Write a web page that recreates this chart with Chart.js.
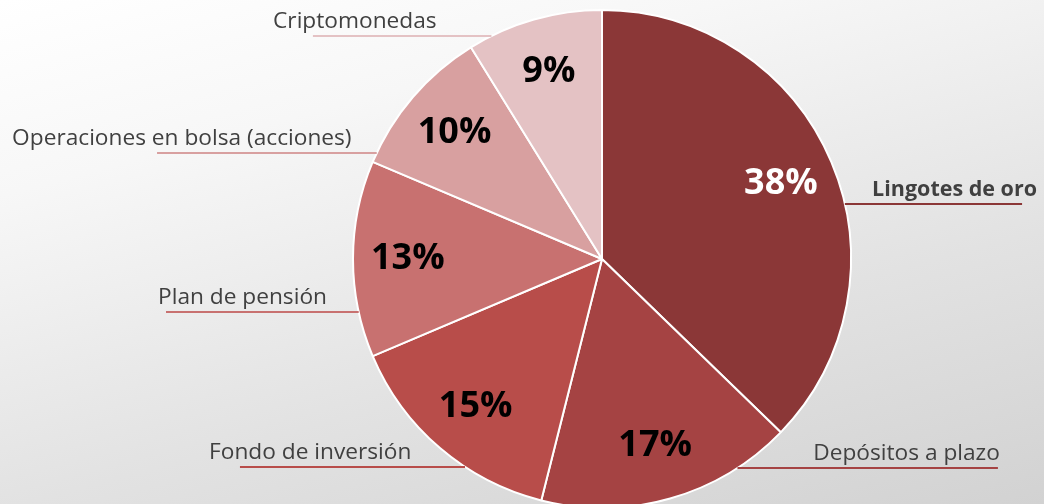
<!DOCTYPE html>
<html>
<head>
<meta charset="utf-8">
<script src="https://cdn.jsdelivr.net/npm/chart.js@4.4.0/dist/chart.umd.min.js"></script>
<style>
  html, body { margin: 0; padding: 0; overflow: hidden; }
  #wrap {
    width: 1044px; height: 504px; position: relative;
    background: linear-gradient(165deg, #ffffff 0%, #f7f7f7 25%, #e2e2e2 65%, #d2d2d2 100%);
  }
</style>
</head>
<body>
<div id="wrap"><canvas id="pieChart"></canvas></div>
<script>
// --- data ---
const categories = ['Lingotes de oro', 'Depósitos a plazo', 'Fondo de inversión', 'Plan de pensión', 'Operaciones en bolsa (acciones)', 'Criptomonedas'];
const shares = [38, 17, 15, 13, 10, 9];
const sliceColors = ['#8b3737', '#a54343', '#b84d4a', '#c87170', '#d8a0a0', '#e4c2c4'];
const pctColors = ['#ffffff', '#000000', '#000000', '#000000', '#000000', '#000000'];

// label placement, in units of the pie radius from its centre
const labelLineY = [-0.221, 0.839, 0.835, 0.213, -0.426, -0.896];
const labelLineEnd = [1.687, 1.590, -1.454, -1.751, -1.787, -1.161];
const labelTextX = [1.747, 1.598, -1.578, -1.783, -2.369, -1.321];

// draws the percentages inside the slices
const pctLabels = {
    id: 'pctLabels',
    afterDatasetsDraw(chart) {
        const ctx = chart.ctx;
        const arcs = chart.getDatasetMeta(0).data;
        ctx.save();
        ctx.font = 'bold 36px "Open Sans"';
        ctx.textAlign = 'center';
        ctx.textBaseline = 'middle';
        arcs.forEach((arc, i) => {
            const p = arc.getProps(['x', 'y', 'startAngle', 'endAngle', 'outerRadius'], true);
            const mid = (p.startAngle + p.endAngle) / 2;
            const d = p.outerRadius * 0.78;
            ctx.fillStyle = pctColors[i];
            ctx.fillText(shares[i] + '%', p.x + Math.cos(mid) * d, p.y + Math.sin(mid) * d);
        });
        ctx.restore();
    }
};

// draws category names with underline leader lines
const nameLabels = {
    id: 'nameLabels',
    afterDatasetsDraw(chart) {
        const ctx = chart.ctx;
        const arcs = chart.getDatasetMeta(0).data;
        ctx.save();
        arcs.forEach((arc, i) => {
            const p = arc.getProps(['x', 'y', 'outerRadius'], true);
            const r = p.outerRadius;
            const ly = p.y + labelLineY[i] * r;
            const side = labelLineEnd[i] > 0 ? 1 : -1;
            const dy = ly - p.y;
            const edgeX = p.x + side * Math.sqrt(Math.max(r * r - dy * dy, 0));
            ctx.strokeStyle = sliceColors[i];
            ctx.lineWidth = 2;
            ctx.beginPath();
            ctx.moveTo(edgeX, ly);
            ctx.lineTo(p.x + labelLineEnd[i] * r, ly);
            ctx.stroke();

            ctx.font = i === 0 ? 'bold 21.5px "Open Sans"' : '22.7px "Open Sans"';
            ctx.fillStyle = '#404040';
            ctx.textBaseline = 'middle';
            ctx.textAlign = side > 0 ? 'right' : 'left';
            ctx.fillText(categories[i], p.x + labelTextX[i] * r, ly - 14);
        });
        ctx.restore();
    }
};

document.addEventListener('DOMContentLoaded', function() {
    new Chart(document.getElementById('pieChart'), {
        type: 'pie',
        data: {
            labels: categories,
            datasets: [{
                data: shares,
                backgroundColor: sliceColors,
                borderColor: '#ffffff',
                borderWidth: 2,
                hoverOffset: 0
            }]
        },
        options: {
            responsive: true,
            maintainAspectRatio: false,
            animation: false,
            radius: 249,
            layout: { padding: { left: 260, right: 100, top: 14, bottom: 0 } },
            plugins: {
                legend: { display: false },
                tooltip: { enabled: false }
            }
        },
        plugins: [pctLabels, nameLabels]
    });
});
</script>
</body>
</html>
